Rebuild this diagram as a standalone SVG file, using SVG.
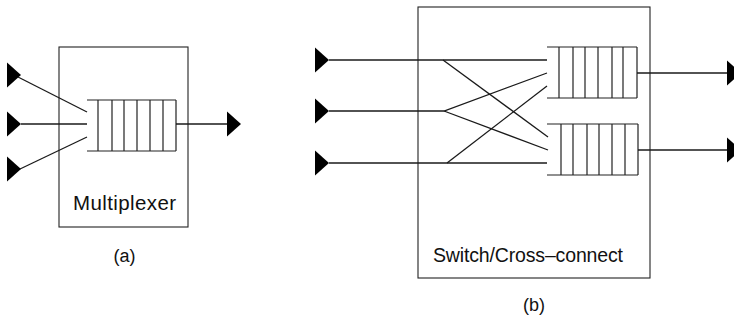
<svg xmlns="http://www.w3.org/2000/svg" width="734" height="320" viewBox="0 0 734 320">
<style>
.box{fill:none;stroke:#222;stroke-width:1.1}
.q{fill:none;stroke:#222;stroke-width:1.2}
.ln{fill:none;stroke:#1a1a1a;stroke-width:1.3}
.lbl{font-family:"Liberation Sans",Arial,sans-serif;fill:#111}
.tri{fill:#000}
</style>
<defs>
<path id="arr" d="M0,-12.5 L14,0 L0,12.5 Z"/>
</defs>
<rect width="734" height="320" fill="#fff"/>

<g id="multiplexer">
<rect class="box" x="59" y="47" width="129" height="180"/>
<text class="lbl" x="73" y="210" font-size="20.5" textLength="103" lengthAdjust="spacing">Multiplexer</text>
</g>
<g id="queue-a">
<path class="q" d="M87,100H176M87,151H176M98,100V151M112,100V151M124,100V151M137,100V151M150,100V151M163,100V151M176,100V151"/>
</g>
<g id="label-a">
<text class="lbl" x="124.5" y="262" font-size="18" text-anchor="middle">(a)</text>
</g>

<g id="switch">
<rect class="box" x="418" y="7" width="232" height="271"/>
<text class="lbl" x="433" y="262" font-size="19.5" textLength="190" lengthAdjust="spacing">Switch/Cross–connect</text>
</g>
<g id="queue-b1">
<path class="q" d="M547,47H637M547,98H637M559,47V98M573,47V98M585,47V98M598,47V98M612,47V98M623,47V98M637,47V98"/>
</g>
<g id="queue-b2">
<path class="q" d="M547,124H638M547,175H638M561,124V175M573,124V175M587,124V175M599,124V175M612,124V175M625,124V175M638,124V175"/>
</g>
<g id="label-b">
<text class="lbl" x="534" y="311" font-size="18" text-anchor="middle">(b)</text>
</g>

<g id="sources">
<use href="#arr" class="tri" x="7" y="75"/>
<use href="#arr" class="tri" x="7" y="124"/>
<use href="#arr" class="tri" x="7" y="169"/>
<use href="#arr" class="tri" x="315" y="60"/>
<use href="#arr" class="tri" x="315" y="111"/>
<use href="#arr" class="tri" x="315" y="163"/>
</g>
<g id="sinks">
<use href="#arr" class="tri" x="227" y="124"/>
<use href="#arr" class="tri" x="727" y="73"/>
<use href="#arr" class="tri" x="727" y="150"/>
</g>

<g id="connectors">
<path class="ln" d="M18,77L87,112"/>
<path class="ln" d="M21,124H87"/>
<path class="ln" d="M20,169L87,137"/>
<path class="ln" d="M176,124H227"/>
<path class="ln" d="M329,60H547"/>
<path class="ln" d="M443,60L548,137"/>
<path class="ln" d="M329,111H444L547,73"/>
<path class="ln" d="M444,111L548,150"/>
<path class="ln" d="M329,163H547"/>
<path class="ln" d="M447,163L547,86"/>
<path class="ln" d="M637,73H727"/>
<path class="ln" d="M638,150H727"/>
</g>
</svg>
